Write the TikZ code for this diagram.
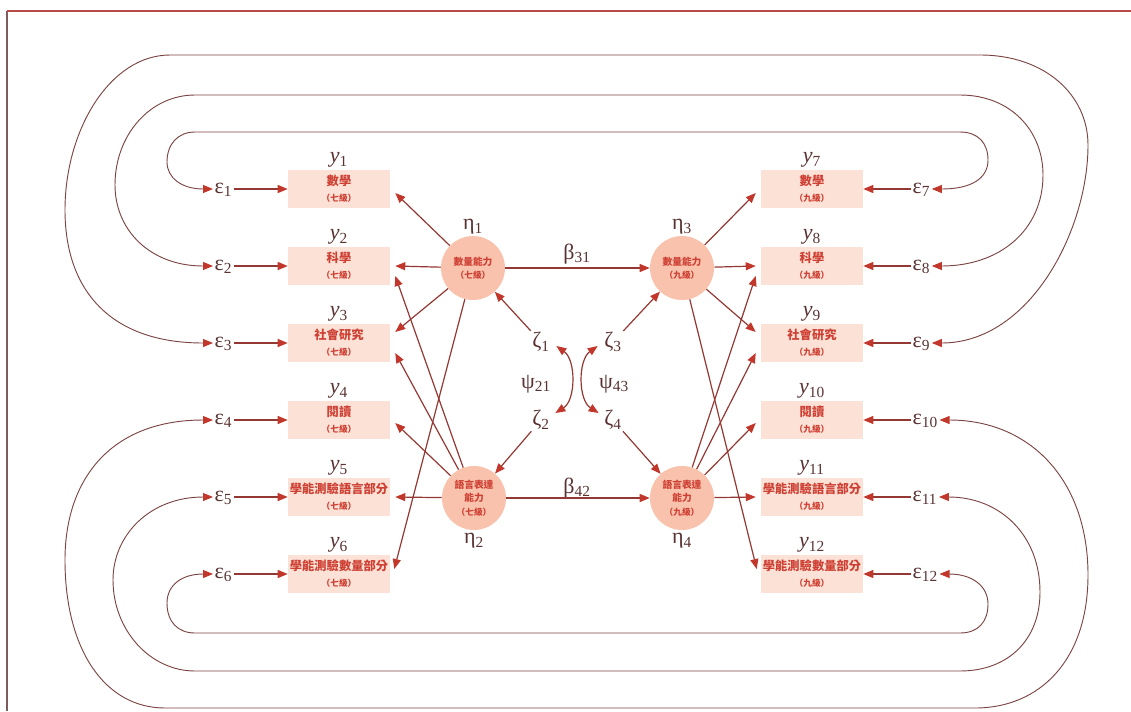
\documentclass[tikz,border=0pt]{standalone}
\usepackage{fontspec}
\setmainfont{Liberation Serif}
\newfontfamily\cjk{Noto Sans CJK TC}
\usetikzlibrary{arrows.meta,calc}
\definecolor{linec}{HTML}{943833}
\definecolor{headc}{HTML}{C2372C}
\definecolor{curvec}{HTML}{7D4444}
\definecolor{boxfill}{HTML}{FCE2D6}
\definecolor{circfill}{HTML}{F8C2AD}
\definecolor{txtred}{HTML}{CF4034}
\definecolor{labc}{HTML}{5A3232}
\definecolor{framec}{HTML}{7E5C5C}
\definecolor{topc}{HTML}{B84A4A}
\newcommand{\grade}[1]{{\fontsize{6.5}{8}\selectfont （#1）}}
\begin{document}
\begin{tikzpicture}[x=0.75pt,y=-0.75pt,
  obs/.style={fill=boxfill, minimum width=76.5pt, minimum height=28.5pt, inner sep=0pt, align=center, text=txtred, font=\cjk\bfseries\fontsize{9.2}{12}\selectfont},
  lat/.style={circle, fill=circfill, minimum size=48pt, inner sep=0pt, align=center, text=txtred, font=\cjk\bfseries\fontsize{7.3}{10}\selectfont},
  lab/.style={text=labc, font=\fontsize{16.5}{16.5}\selectfont, inner sep=1pt},
  load/.style={draw=linec, line width=0.9pt, -{Triangle[length=7.5pt,width=6pt,color=headc]}},
  errcurve/.style={draw=curvec, line width=0.7pt, {Triangle[length=7.5pt,width=6pt,color=headc]}-{Triangle[length=7.5pt,width=6pt,color=headc]}},
  dbl/.style={draw=linec, line width=0.9pt, {Triangle[length=7.5pt,width=6pt,color=headc]}-{Triangle[length=7.5pt,width=6pt,color=headc]}}
]
\useasboundingbox (0,0) rectangle (1131,711);
% frame
\draw[framec, line width=1.4pt] (7,711) -- (7,11);
\draw[topc, line width=1.2pt] (6.5,11) -- (1131,11);

% observed boxes
\node[obs] (b1) at (339,189) {數學\\\grade{七級}};
\node[obs] (b2) at (339,266) {科學\\\grade{七級}};
\node[obs] (b3) at (339,343) {社會研究\\\grade{七級}};
\node[obs] (b4) at (339,420) {閱讀\\\grade{七級}};
\node[obs] (b5) at (339,497) {學能測驗語言部分\\\grade{七級}};
\node[obs] (b6) at (339,574) {學能測驗數量部分\\\grade{七級}};
\node[obs] (b7) at (812,189) {數學\\\grade{九級}};
\node[obs] (b8) at (812,266) {科學\\\grade{九級}};
\node[obs] (b9) at (812,343) {社會研究\\\grade{九級}};
\node[obs] (b10) at (812,420) {閱讀\\\grade{九級}};
\node[obs] (b11) at (812,497) {學能測驗語言部分\\\grade{九級}};
\node[obs] (b12) at (812,574) {學能測驗數量部分\\\grade{九級}};

% y labels
\node[lab] (ly1) at (339,160) {\textit{y}\textsubscript{1}};
\node[lab] (ly2) at (339,237) {\textit{y}\textsubscript{2}};
\node[lab] (ly3) at (339,314) {\textit{y}\textsubscript{3}};
\node[lab] (ly4) at (339,391) {\textit{y}\textsubscript{4}};
\node[lab] (ly5) at (339,468) {\textit{y}\textsubscript{5}};
\node[lab] (ly6) at (339,545) {\textit{y}\textsubscript{6}};
\node[lab] (ly7) at (812,160) {\textit{y}\textsubscript{7}};
\node[lab] (ly8) at (812,237) {\textit{y}\textsubscript{8}};
\node[lab] (ly9) at (812,314) {\textit{y}\textsubscript{9}};
\node[lab] (ly10) at (812,391) {\textit{y}\textsubscript{10}};
\node[lab] (ly11) at (812,468) {\textit{y}\textsubscript{11}};
\node[lab] (ly12) at (812,545) {\textit{y}\textsubscript{12}};

% error labels
\node[lab,anchor=west] (e1) at (213,190) {ε\textsubscript{1}};
\node[lab,anchor=west] (e2) at (213,267) {ε\textsubscript{2}};
\node[lab,anchor=west] (e3) at (213,344) {ε\textsubscript{3}};
\node[lab,anchor=west] (e4) at (213,421) {ε\textsubscript{4}};
\node[lab,anchor=west] (e5) at (213,498) {ε\textsubscript{5}};
\node[lab,anchor=west] (e6) at (213,575) {ε\textsubscript{6}};
\node[lab,anchor=west] (e7) at (911,190) {ε\textsubscript{7}};
\node[lab,anchor=west] (e8) at (911,267) {ε\textsubscript{8}};
\node[lab,anchor=west] (e9) at (911,344) {ε\textsubscript{9}};
\node[lab,anchor=west] (e10) at (911,421) {ε\textsubscript{10}};
\node[lab,anchor=west] (e11) at (911,498) {ε\textsubscript{11}};
\node[lab,anchor=west] (e12) at (911,575) {ε\textsubscript{12}};

% latent circles
\node[lat] (h1) at (473,268) {數量能力\\\grade{七級}};
\node[lat] (h2) at (474,498) {語言表達\\能力\\\grade{七級}};
\node[lat] (h3) at (682,268) {數量能力\\\grade{九級}};
\node[lat] (h4) at (682,498) {語言表達\\能力\\\grade{九級}};
\node[lab] (lh1) at (473,227) {η\textsubscript{1}};
\node[lab] (lh2) at (474,541) {η\textsubscript{2}};
\node[lab] (lh3) at (682,227) {η\textsubscript{3}};
\node[lab] (lh4) at (682,541) {η\textsubscript{4}};

% zeta, psi, beta labels
\node[lab] (z1) at (541,342) {ζ\textsubscript{1}};
\node[lab] (z2) at (541,420) {ζ\textsubscript{2}};
\node[lab] (z3) at (613,342) {ζ\textsubscript{3}};
\node[lab] (z4) at (613,420) {ζ\textsubscript{4}};
\node[lab] (p21) at (536,384) {ψ\textsubscript{21}};
\node[lab] (p43) at (614,384) {ψ\textsubscript{43}};
\node[lab] (bt31) at (577,254) {β\textsubscript{31}};
\node[lab] (bt42) at (577,488) {β\textsubscript{42}};

% error -> indicator arrows
\foreach \i in {1,...,6}{
  \draw[load] (e\i.east |- b\i.west) -- (b\i.west);
}
\foreach \i in {7,...,12}{
  \draw[load] (e\i.west |- b\i.east) -- (b\i.east);
}

% correlated error curves
\draw[errcurve] (e1.west |- b1.west) .. controls (182,189) and (167,178) .. (167,162) .. controls (167,144) and (178,132) .. (195,132) -- (960,132) .. controls (978,132) and (988,143) .. (988,160) .. controls (988,178) and (972,189) .. (e7.east |- b7.east);
\draw[errcurve] (e2.west |- b2.west) .. controls (150,266) and (115,230) .. (115,185) .. controls (115,135) and (150,95) .. (195,95) -- (960,95) .. controls (1010,95) and (1043,130) .. (1043,175) .. controls (1043,230) and (1000,266) .. (e8.east |- b8.east);
\draw[errcurve] (e3.west |- b3.west) .. controls (110,343) and (65,290) .. (65,210) .. controls (65,130) and (110,55) .. (170,55) -- (980,55) .. controls (1045,55) and (1088,95) .. (1088,145) .. controls (1088,230) and (1030,343) .. (e9.east |- b9.east);
\draw[errcurve] (e4.west |- b4.west) .. controls (110,420) and (65,480) .. (65,560) .. controls (65,650) and (105,708) .. (165,708) -- (975,708) .. controls (1040,708) and (1088,660) .. (1088,575) .. controls (1088,480) and (1030,420) .. (e10.east |- b10.east);
\draw[errcurve] (e5.west |- b5.west) .. controls (150,497) and (113,535) .. (113,580) .. controls (113,630) and (150,671) .. (195,671) -- (960,671) .. controls (1008,671) and (1040,640) .. (1040,592) .. controls (1040,535) and (1000,497) .. (e11.east |- b11.east);
\draw[errcurve] (e6.west |- b6.west) .. controls (182,574) and (167,585) .. (167,603) .. controls (167,622) and (178,633) .. (195,633) -- (960,633) .. controls (978,633) and (988,622) .. (988,604) .. controls (988,586) and (972,574) .. (e12.east |- b12.east);

% loadings, left
\draw[load] (h1) -- ($(b1.east)+(5,4)$);
\draw[load] (h1) -- ($(b2.east)+(5,0)$);
\draw[load] (h1) -- ($(b3.east)+(5,-11)$);
\draw[load] (h1) -- ($(b6.east)+(4,-5)$);
\draw[load] (h2) -- ($(b2.east)+(5,10)$);
\draw[load] (h2) -- ($(b3.east)+(5,10)$);
\draw[load] (h2) -- ($(b4.east)+(5,3)$);
\draw[load] (h2) -- ($(b5.east)+(5,0)$);
% loadings, right
\draw[load] (h3) -- ($(b7.west)+(-5,4)$);
\draw[load] (h3) -- ($(b8.west)+(-5,0)$);
\draw[load] (h3) -- ($(b9.west)+(-5,-11)$);
\draw[load] (h3) -- ($(b12.west)+(-4,-5)$);
\draw[load] (h4) -- ($(b8.west)+(-5,10)$);
\draw[load] (h4) -- ($(b9.west)+(-5,10)$);
\draw[load] (h4) -- ($(b10.west)+(-5,3)$);
\draw[load] (h4) -- ($(b11.west)+(-5,0)$);

% structural paths
\draw[load] (h1) -- (h3);
\draw[load] (h2) -- (h4);
\draw[load] (z1) -- (h1);
\draw[load] (z2) -- (h2);
\draw[load] (z3) -- (h3);
\draw[load] (z4) -- (h4);
\draw[dbl] ($(z1.east)+(5,4)$) .. controls (576,360) and (576,400) .. ($(z2.east)+(4,-7)$);
\draw[dbl] ($(z3.west)+(-5,4)$) .. controls (578,360) and (578,400) .. ($(z4.west)+(-4,-7)$);
\end{tikzpicture}
\end{document}
